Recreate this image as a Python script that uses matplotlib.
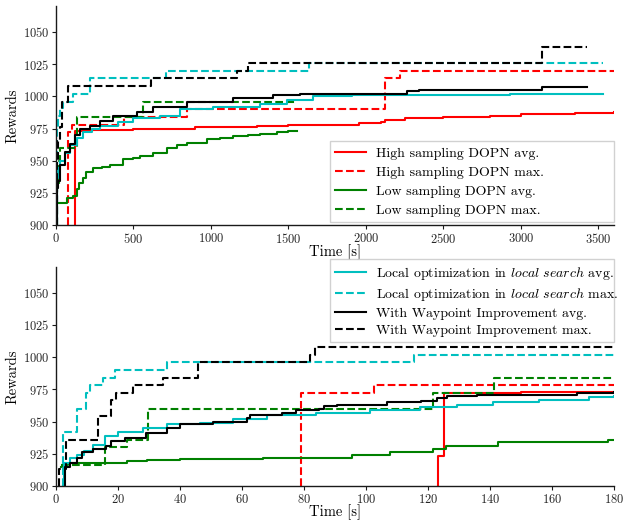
import matplotlib
matplotlib.use("Agg")
import matplotlib.pyplot as plt

plt.rcParams['font.family'] = 'serif'
plt.rcParams['font.serif'] = ['cmr10', 'DejaVu Serif']
plt.rcParams['mathtext.fontset'] = 'cm'
plt.rcParams['axes.formatter.use_mathtext'] = True

# ---------------- Top panel data (time in s, reward) ----------------
top_high_avg_t = [122, 122, 200, 500, 900, 1300, 1500, 1955, 2100, 2122, 2250, 2500, 2800, 3000, 3350, 3600]
top_high_avg_r = [900, 973, 974, 975, 976, 977, 978, 979, 980, 982, 983, 984, 985, 986, 987, 988]
top_high_max_t = [79, 79, 101, 440, 845, 2122, 2220, 3600]
top_high_max_r = [900, 972, 978, 984, 990, 1014, 1020, 1020]
top_low_avg_t = [0, 69, 110, 133, 150, 175, 194, 240, 300, 348, 434, 500, 542, 628, 714, 780, 843, 972, 1060, 1144, 1240, 1316, 1424, 1500, 1555]
top_low_avg_r = [917, 921, 923, 928, 933, 937, 941, 944, 945, 947, 951, 952, 954, 956, 960, 962, 964, 967, 968, 969, 970, 971, 972, 973, 973]
top_low_max_t = [0, 8, 18, 26, 138, 563, 1555]
top_low_max_r = [900, 930, 950, 960, 984, 996, 996]
top_loc_avg_t = [4, 4, 15, 26, 58, 90, 133, 176, 230, 283, 400, 500, 669, 798, 1015, 1316, 1488, 1660, 1910, 2930, 3530]
top_loc_avg_r = [900, 937, 944, 950, 956, 962, 968, 972, 975, 977, 980, 983, 985, 990, 992, 994, 997, 1000, 1001, 1002, 1002]
top_loc_max_t = [4, 4, 15, 26, 43, 108, 219, 708, 1630, 3530]
top_loc_max_r = [900, 976, 985, 991, 996, 1002, 1014, 1020, 1026, 1026]
top_wp_avg_t = [4, 4, 13, 26, 58, 90, 122, 155, 219, 283, 369, 520, 628, 843, 1144, 1402, 1574, 2265, 2340, 3135, 3426]
top_wp_avg_r = [900, 929, 934, 947, 957, 963, 970, 975, 977, 981, 985, 988, 992, 996, 999, 1001, 1002, 1004, 1005, 1007, 1007]
top_wp_max_t = [4, 4, 13, 26, 37, 79, 613, 1167, 1240, 3135, 3426]
top_wp_max_r = [900, 950, 965, 976, 996, 1008, 1014, 1020, 1026, 1038, 1038]

# ---------------- Bottom panel data ----------------
bot_high_avg_t = [123.3, 123.3, 125.3, 150, 180]
bot_high_avg_r = [900, 923, 972, 973, 973]
bot_high_max_t = [79.2, 79.2, 102.6, 180]
bot_high_max_r = [900, 972, 978, 978]
bot_low_avg_t = [1.7, 3.5, 4.5, 23, 29.4, 40, 66.9, 95.4, 107.8, 121.7, 126, 142.5, 178, 180]
bot_low_avg_r = [915, 917, 918, 919, 920, 921, 922, 924, 926, 929, 931, 934, 936, 936]
bot_low_max_t = [1.7, 15.8, 23, 29.8, 121.7, 141.4, 180]
bot_low_max_r = [916, 930, 936, 960, 972, 984, 984]
bot_loc_avg_t = [2.6, 2.6, 4.5, 6.7, 9, 12, 15.8, 20, 28, 35.7, 46.5, 57, 68, 84, 101.4, 117.5, 129.4, 141, 156, 172, 180]
bot_loc_avg_r = [900, 918, 922, 924, 927, 932, 939, 942, 945, 948, 949, 952, 955, 957, 959, 961, 963, 965, 967, 969, 970]
bot_loc_max_t = [2.4, 2.4, 6.7, 9.7, 11, 15.3, 19, 35.7, 115.5, 180]
bot_loc_max_r = [900, 942, 960, 972, 978, 984, 990, 996, 1002, 1002]
bot_wp_avg_t = [2.9, 2.9, 4.5, 6.7, 8.3, 12, 16.3, 17.8, 22.2, 29.2, 35.7, 40, 50.7, 61.5, 62.6, 73, 77.5, 85, 86.5, 90.8, 106.9, 117.7, 123, 126.2, 135.9, 168, 180]
bot_wp_avg_r = [900, 915, 918, 922, 926, 929, 931, 935, 937, 941, 945, 948, 950, 953, 955, 957, 959, 960, 962, 963, 965, 966, 968, 970, 971, 972, 973]
bot_wp_max_t = [1.1, 1.1, 3.2, 13.4, 17.8, 19.4, 24.7, 34.4, 45.9, 82.1, 83.5, 180]
bot_wp_max_r = [900, 913, 936, 954, 967, 972, 978, 984, 996, 1002, 1008, 1008]

labels_top = ["High sampling DOPN avg.", "High sampling DOPN max.",
              "Low sampling DOPN avg.", "Low sampling DOPN max."]
labels_bot = [r"Local optimization in $\mathit{local\ search}$ avg.",
              r"Local optimization in $\mathit{local\ search}$ max.",
              "With Waypoint Improvement avg.", "With Waypoint Improvement max."]

RED, GREEN, CYAN, BLACK = '#ff0000', '#008000', '#00bfbf', '#000000'

fig = plt.figure(figsize=(6.24, 5.2), dpi=100)
ax1 = fig.add_axes([0.0897, 0.567, 0.894, 0.421])
ax2 = fig.add_axes([0.0897, 0.0655, 0.894, 0.421])

def series(ax, t, r, color, ls, label=None):
    return ax.plot(t, r, color=color, ls=ls, lw=1.5, drawstyle='steps-post', label=label)[0]

# top
h = []
h.append(series(ax1, top_high_avg_t, top_high_avg_r, RED, '-', labels_top[0]))
h.append(series(ax1, top_high_max_t, top_high_max_r, RED, '--', labels_top[1]))
h.append(series(ax1, top_low_avg_t, top_low_avg_r, GREEN, '-', labels_top[2]))
h.append(series(ax1, top_low_max_t, top_low_max_r, GREEN, '--', labels_top[3]))
series(ax1, top_loc_avg_t, top_loc_avg_r, CYAN, '-')
series(ax1, top_loc_max_t, top_loc_max_r, CYAN, '--')
series(ax1, top_wp_avg_t, top_wp_avg_r, BLACK, '-')
series(ax1, top_wp_max_t, top_wp_max_r, BLACK, '--')

# bottom
series(ax2, bot_high_avg_t, bot_high_avg_r, RED, '-')
series(ax2, bot_high_max_t, bot_high_max_r, RED, '--')
series(ax2, bot_low_avg_t, bot_low_avg_r, GREEN, '-')
series(ax2, bot_low_max_t, bot_low_max_r, GREEN, '--')
h2 = []
h2.append(series(ax2, bot_loc_avg_t, bot_loc_avg_r, CYAN, '-', labels_bot[0]))
h2.append(series(ax2, bot_loc_max_t, bot_loc_max_r, CYAN, '--', labels_bot[1]))
h2.append(series(ax2, bot_wp_avg_t, bot_wp_avg_r, BLACK, '-', labels_bot[2]))
h2.append(series(ax2, bot_wp_max_t, bot_wp_max_r, BLACK, '--', labels_bot[3]))

for ax in (ax1, ax2):
    ax.set_ylim(900, 1070)
    ax.set_yticks(range(900, 1051, 25))
    ax.spines['top'].set_visible(False)
    ax.spines['right'].set_visible(False)
    for s in ('left', 'bottom'):
        ax.spines[s].set_color('0.1')
        ax.spines[s].set_linewidth(1.0)
    ax.tick_params(labelsize=9, length=3, width=0.8, pad=2, colors='0.1', labelcolor='0.15')
    ax.set_ylabel("Rewards", fontsize=10.5, labelpad=2)
    ax.set_xlabel("Time [s]", fontsize=10.5, labelpad=-1)

ax1.set_xlim(0, 3600)
ax1.set_xticks(range(0, 3501, 500))
ax2.set_xlim(0, 180)
ax2.set_xticks(range(0, 181, 20))

leg_kw = dict(fontsize=10, frameon=True, fancybox=False, edgecolor='0.8',
              framealpha=0.9, borderpad=0.4, handlelength=2.2, handletextpad=0.7,
              borderaxespad=0.0, mode='expand')
ax1.legend(handles=h, loc='lower left', bbox_to_anchor=(0.491, 0.014, 0.509, 0.4),
           labelspacing=0.45, **leg_kw)
ax2.legend(handles=h2, loc='upper left', bbox_to_anchor=(0.491, 0.0, 0.509, 1.0365),
           labelspacing=0.3, **leg_kw)

fig.savefig("out.png", dpi=100)
